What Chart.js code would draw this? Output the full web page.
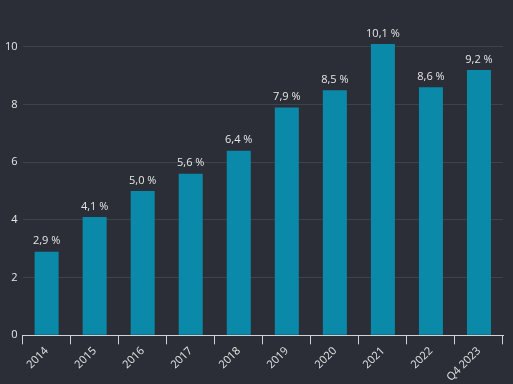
<!DOCTYPE html>
<html>
<head>
<meta charset="utf-8">
<script src="https://cdn.jsdelivr.net/npm/chart.js@4/dist/chart.umd.min.js"></script>
<style>
  html, body { margin: 0; padding: 0; background: #2b2e37; }
  #wrap { width: 513px; height: 384px; }
</style>
</head>
<body>
<div id="wrap"><canvas id="myChart"></canvas></div>
<script>
"use strict";

var years = ["2014", "2015", "2016", "2017", "2018", "2019", "2020", "2021", "2022", "Q4 2023"];
var shares = [2.9, 4.1, 5.0, 5.6, 6.4, 7.9, 8.5, 10.1, 8.6, 9.2];
var yTicks = [0, 2, 4, 6, 8, 10];

// draws "2,9 %" over each bar
var barLabels = {
    id: 'barLabels',
    afterDatasetsDraw: function (chart) {
        var ctx = chart.ctx;
        var meta = chart.getDatasetMeta(0);
        ctx.save();
        ctx.fillStyle = '#e6e6e6';
        ctx.font = '11px "Open Sans"';
        ctx.textAlign = 'center';
        ctx.textBaseline = 'bottom';
        meta.data.forEach(function (bar, i) {
            ctx.fillText(shares[i].toFixed(1).replace('.', ',') + ' %', bar.x, bar.y - 5);
        });
        ctx.restore();
    }
};

var ctx = document.getElementById('myChart').getContext('2d');

var myChart = new Chart(ctx, {
    type: 'bar',
    data: {
        labels: years,
        datasets: [{
            data: shares,
            backgroundColor: '#0a8aa8',
            categoryPercentage: 1,
            barPercentage: 0.5
        }]
    },
    options: {
        responsive: true,
        maintainAspectRatio: false,
        animation: false,
        layout: { padding: { top: 18, right: 10, left: 0, bottom: 0 } },
        plugins: {
            legend: { display: false },
            tooltip: { enabled: false }
        },
        scales: {
            x: {
                grid: { drawOnChartArea: false, drawTicks: true, tickLength: 9, color: '#cfd2d8' },
                border: { display: true, color: '#cfd2d8' },
                ticks: {
                    color: '#e6e6e6',
                    padding: 0,
                    font: { family: '"Open Sans"', size: 11 },
                    minRotation: 45,
                    maxRotation: 45,
                    autoSkip: false
                }
            },
            y: {
                min: 0,
                max: 11,
                afterBuildTicks: function (axis) {
                    axis.ticks = yTicks.map(function (v) { return { value: v }; });
                },
                grid: { color: '#3e424c', drawTicks: false },
                border: { display: false },
                ticks: {
                    color: '#e6e6e6',
                    padding: 5,
                    font: { family: '"Open Sans"', size: 11 }
                }
            }
        }
    },
    plugins: [barLabels]
});
</script>
</body>
</html>
